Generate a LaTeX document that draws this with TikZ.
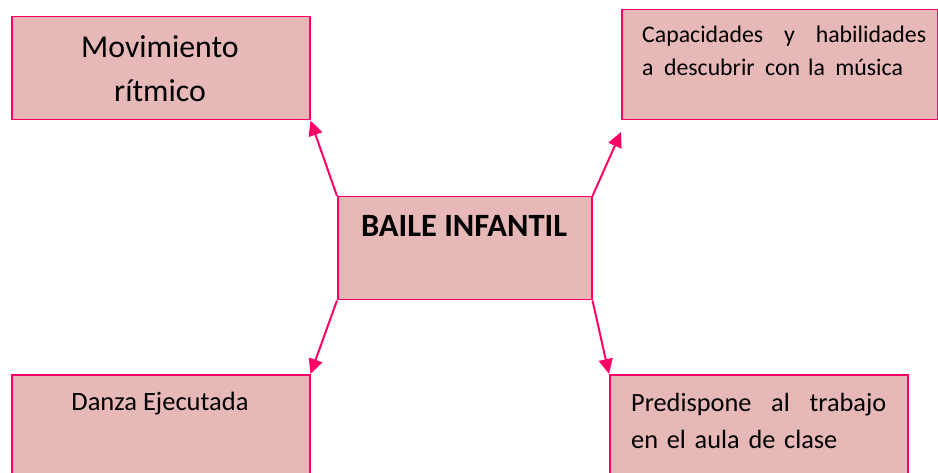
\documentclass[tikz,border=0pt]{standalone}
\usepackage{fontspec}
\setmainfont{Carlito}
\usetikzlibrary{arrows.meta}
\definecolor{boxpink}{RGB}{230,184,183}
\definecolor{linepink}{RGB}{255,0,102}
\begin{document}
\begin{tikzpicture}[x=1pt,y=-1pt,
    box/.style = {draw=linepink,fill=boxpink,line width=1.5pt,inner sep=0pt,anchor=north west},
    arrow/.style = {draw=linepink,line width=2pt,-{Triangle[length=15pt,width=14pt]}}]
    \useasboundingbox (0,0) rectangle (938,473);
    \clip (0,0) rectangle (938,473);

    \node[box,minimum width=298pt,minimum height=103pt] (mov)   at (11,16)  {};
    \node[box,minimum width=316pt,minimum height=110pt] (cap)   at (621,9)  {};
    \node[box,minimum width=254pt,minimum height=103pt] (baile) at (337,196) {};
    \node[box,minimum width=298pt,minimum height=120pt] (danza) at (11,374) {};
    \node[box,minimum width=298pt,minimum height=120pt] (pred)  at (609,374) {};

    \node[anchor=base,align=center,font=\fontsize{31.8}{44}\selectfont] (movtext) at (160,102) {Movimiento\\rítmico};
    \node[anchor=base,font=\fontsize{32.5}{38}\selectfont\bfseries] (bailetext) at (464,237) {BAILE INFANTIL};
    \node[anchor=base west,inner sep=0pt,text width=284pt,align=left,font=\fontsize{23.8}{33}\selectfont] (captext) at (642,43)
        {Capacidades\hfill y\hfill habilidades\\a\hspace{2.5pt} descubrir\hspace{2.5pt} con la\hspace{2.5pt} música};
    \node[anchor=base,font=\fontsize{26.5}{32}\selectfont] (danzatext) at (160,410) {Danza Ejecutada};
    \node[anchor=base west,inner sep=0pt,text width=255pt,align=left,font=\fontsize{26.3}{37}\selectfont] (predtext) at (631,411)
        {Predispone\hfill al\hfill trabajo\\en el\ aula\ de clase};

    \coordinate (captip) at (621,132);
    \draw[arrow] (baile.north west) -- (mov.south east);
    \draw[arrow] (baile.north east) -- (captip);
    \draw[arrow] (baile.south west) -- (danza.north east);
    \draw[arrow] (baile.south east) -- (pred.north west);
\end{tikzpicture}
\end{document}
